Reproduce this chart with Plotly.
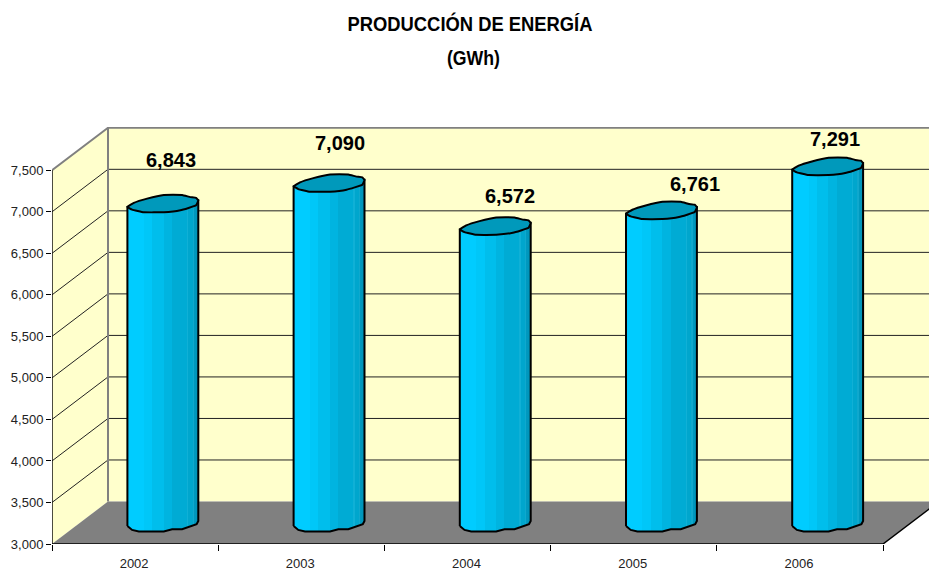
import plotly.graph_objects as go

# ---- data ----
years = ["2002", "2003", "2004", "2005", "2006"]
production = [6843, 7090, 6572, 6761, 7291]
value_ticks = [3000, 3500, 4000, 4500, 5000, 5500, 6000, 6500, 7000, 7500]
title_line1 = "PRODUCCIÓN DE ENERGÍA"
title_line2 = "(GWh)"

# ---- pixel style constants ----
PX_PER_CAT = 166.2
PX_PER_VAL = 375.5 / 4500
DEPTH_X = 56 / PX_PER_CAT      # depth of the 3D box, category units
DEPTH_Y = 42.7 / PX_PER_VAL    # depth of the 3D box, value units
W, H = 929, 571
L, R, T, B = 52, 0, 127, 25
XMAX = (W - L - R) / PX_PER_CAT
YMIN, YTOP = 3000, 7500
YMAX = YMIN + (H - T - B) / PX_PER_VAL
PLOT_H = H - T - B

LABEL_DX = [8, 11, 14, 33, 7]     # px, data-label offset from cylinder centre
LABEL_DY = [44, 40, 30, 26, 27]   # px, data-label offset above cylinder top

# cylinder outlines, px relative to the centre of the end cap
TOP_PROFILE = [(-35.7, 3.3), (-29.3, -0.7), (-16, -5), (0.7, -8.7), (19, -8.7), (27.3, -6.5),
               (33, -5.7), (35.2, -3.3), (33, 1.7), (17.3, 6.7), (0.7, 8.7), (-19.3, 8.7),
               (-31, 6), (-35.7, 3.3)]
BOTTOM_PROFILE = [(-35.7, 3.2), (-31, 7.2), (-24.3, 8.8), (0.7, 8.8), (9, 6.5), (19, 6.5),
                  (33.5, 1.5), (35.2, -1.8)]

WALL = "#FFFFCC"
FLOOR = "#808080"
CAP = "#0099BB"
BANDS = [(0.00, "#00C8FA"), (0.03, "#00CCFF"), (0.23, "#00CCFF"), (0.23, "#00C7F8"), (0.35, "#00C7F8"),
         (0.35, "#00BEEC"), (0.51, "#00BEEC"), (0.51, "#00B4E0"), (0.63, "#00B4E0"), (0.63, "#00ABD4"),
         (0.84, "#00ABD4"), (0.84, "#10B0D6"), (0.86, "#10B0D6"), (0.86, "#00A6CD"), (0.92, "#00A6CD"),
         (0.92, "#10A8CD"), (0.94, "#10A8CD"), (0.94, "#0099BF"), (1.00, "#0093B8")]

fig = go.Figure()


def poly(xs, ys, color):
    fig.add_trace(go.Scatter(x=xs, y=ys, mode="lines", fill="toself", fillcolor=color,
                             line=dict(width=0), hoverinfo="skip", showlegend=False, cliponaxis=False))


def line(xs, ys, color, width=1):
    fig.add_trace(go.Scatter(x=xs, y=ys, mode="lines", line=dict(color=color, width=width),
                             hoverinfo="skip", showlegend=False, cliponaxis=False))


nx = len(years)
# walls and floor
poly([DEPTH_X, XMAX, XMAX, DEPTH_X, DEPTH_X],
     [YMIN + DEPTH_Y, YMIN + DEPTH_Y, YTOP + DEPTH_Y, YTOP + DEPTH_Y, YMIN + DEPTH_Y], WALL)
poly([0, DEPTH_X, DEPTH_X, 0, 0], [YMIN, YMIN + DEPTH_Y, YTOP + DEPTH_Y, YTOP, YMIN], WALL)
poly([0, nx, nx + DEPTH_X, DEPTH_X, 0], [YMIN, YMIN, YMIN + DEPTH_Y, YMIN + DEPTH_Y, YMIN], FLOOR)

# gridlines
for v in value_ticks[1:-1]:
    line([0, DEPTH_X, XMAX], [v, v + DEPTH_Y, v + DEPTH_Y], "#222222", 1)
line([0, DEPTH_X, XMAX], [YTOP, YTOP + DEPTH_Y, YTOP + DEPTH_Y], "#808080", 2)
line([DEPTH_X, DEPTH_X], [YMIN + DEPTH_Y, YTOP + DEPTH_Y], "#808080", 2)

# box edges
line([0, 0], [YMIN, YTOP], "#111111", 1.5)
line([0, nx, nx + DEPTH_X], [YMIN, YMIN, YMIN + DEPTH_Y], "#000000", 1.5)

# cylinders
for i, val in enumerate(production):
    cx = i + 0.5 + DEPTH_X / 2
    base = YMIN + DEPTH_Y / 2
    top = val + DEPTH_Y / 2
    xs = [cx + p[0] / PX_PER_CAT for p in BOTTOM_PROFILE]
    ys = [base - p[1] / PX_PER_VAL for p in BOTTOM_PROFILE]
    xs += [cx + TOP_PROFILE[7][0] / PX_PER_CAT, cx + TOP_PROFILE[0][0] / PX_PER_CAT, xs[0]]
    ys += [top - TOP_PROFILE[7][1] / PX_PER_VAL, top - TOP_PROFILE[0][1] / PX_PER_VAL, ys[0]]
    fig.add_trace(go.Scatter(
        x=xs, y=ys, mode="lines", fill="toself",
        fillgradient=dict(type="horizontal", colorscale=[[s, c] for s, c in BANDS]),
        line=dict(color="#000000", width=2), hovertemplate=f"{years[i]}: {val:,}<extra></extra>",
        showlegend=False, cliponaxis=False))
    fig.add_trace(go.Scatter(
        x=[cx + p[0] / PX_PER_CAT for p in TOP_PROFILE],
        y=[top - p[1] / PX_PER_VAL for p in TOP_PROFILE],
        mode="lines", fill="toself", fillcolor=CAP,
        line=dict(color="#000000", width=2, shape="spline", smoothing=0.3),
        hoverinfo="skip", showlegend=False, cliponaxis=False))

annotations = [
    dict(x=i + 0.5 + DEPTH_X / 2, y=val + DEPTH_Y / 2, xref="x", yref="y", text=f"{val:,}",
         showarrow=False, xshift=LABEL_DX[i], yshift=LABEL_DY[i], xanchor="center", yanchor="middle",
         font=dict(family="Liberation Sans", size=20, color="#000000", weight="bold"))
    for i, val in enumerate(production)
]
annotations.append(dict(x=(473 - L) / (W - L), y=(H - B - 57) / PLOT_H, xref="paper", yref="paper",
                        text=title_line2, showarrow=False, xanchor="center", yanchor="middle",
                        font=dict(family="Liberation Sans", size=21, color="#000000", weight="bold")))

fig.update_layout(
    width=W, height=H, autosize=False,
    margin=dict(l=L, r=R, t=T, b=B, pad=0),
    paper_bgcolor="#FFFFFF", plot_bgcolor="#FFFFFF",
    showlegend=False,
    title=dict(text=title_line1, x=470 / W, xanchor="center", xref="container",
               y=1 - 23.5 / H, yanchor="middle", yref="container",
               font=dict(family="Liberation Sans", size=21, color="#000000", weight="bold")),
    annotations=annotations,
    xaxis=dict(range=[0, XMAX], showgrid=False, zeroline=False, showline=False,
               tickmode="array", tickvals=[i + 0.5 for i in range(nx)], ticktext=years,
               ticks="", ticklabelstandoff=10, ticklabelshift=-1,
               tickfont=dict(family="Liberation Sans", size=13, color="#222222"),
               minor=dict(tickmode="array", tickvals=list(range(nx + 1)), ticks="outside",
                          ticklen=6, tickwidth=1, tickcolor="#000000", showgrid=False)),
    yaxis=dict(range=[YMIN, YMAX], showgrid=False, zeroline=False, showline=False,
               tickmode="array", tickvals=value_ticks, tickformat=",", ticks="outside",
               ticklen=5, tickwidth=1, tickcolor="#000000",
               tickfont=dict(family="Liberation Sans", size=13, color="#222222")),
)

# Arial Narrow is not installed: condense the real title text to the reference's width.
post = """
document.body.style.margin='0';document.body.style.overflow='hidden';
function narrowTitles(){
  var t=document.querySelector('.gtitle');
  if(t){t.setAttribute('textLength','245');t.setAttribute('lengthAdjust','spacingAndGlyphs');}
  document.querySelectorAll('.annotation-text').forEach(function(a){
    if(a.textContent==='(GWh)'){a.setAttribute('textLength','53');a.setAttribute('lengthAdjust','spacingAndGlyphs');}
  });
}
narrowTitles();requestAnimationFrame(narrowTitles);setTimeout(narrowTitles,50);
"""
fig.write_html("out.html", config={"displayModeBar": False}, post_script=post)
